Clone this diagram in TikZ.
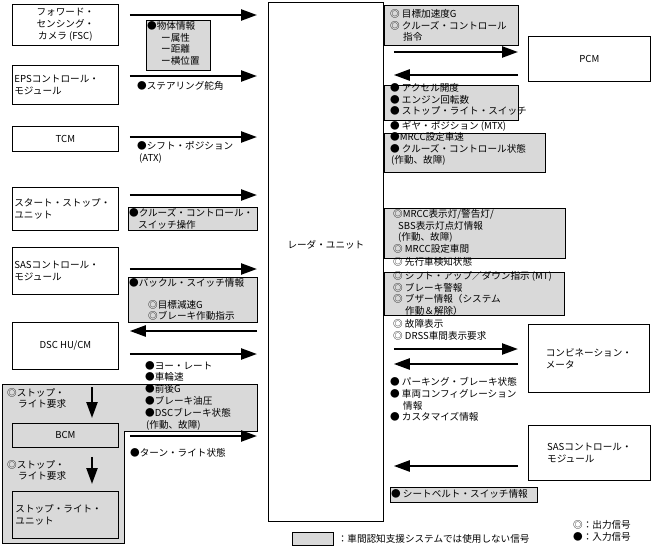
\documentclass[tikz,border=0pt]{standalone}
\usepackage{fontspec}
\setmainfont{Noto Sans CJK JP}
\usetikzlibrary{arrows.meta}
\newcommand\sigfont{\fontsize{9.6}{11.8}\selectfont}

\begin{document}
\begin{tikzpicture}[x=1pt,y=-1pt,font=\sigfont,
  unit/.style={draw,line width=0.8pt,inner sep=2pt,anchor=north west,minimum width=106pt},
  sig/.style={line width=2.4pt,-{Triangle[length=16pt,width=11pt]},shorten <=11pt,shorten >=11pt},
  rsig/.style={sig,shorten <=10pt,shorten >=10pt},
  gbox/.style={draw,fill=black!15,line width=0.6pt},
  txt/.style={anchor=north west,inner sep=0pt,align=left}]
\useasboundingbox (0,0) rectangle (651,546);

% gray area round BCM
\draw[gbox] (2,384) -- (257,384) -- (257,431) -- (124,431) -- (124,543) -- (2,543) -- cycle;

% gray signal boxes
\draw[gbox] (146,20) rectangle (210,70);
\draw[gbox] (128,207) rectangle (257,230);
\draw[gbox] (128,277) rectangle (257,322);
\draw[gbox] (384,5) rectangle (518,45);
\draw[gbox] (384,85) rectangle (518,120);
\draw[gbox] (384,133) rectangle (545,172);
\draw[gbox] (384,208) rectangle (565,258);
\draw[gbox] (384,272) rectangle (564,315);
\draw[gbox] (390,487) rectangle (537,502);

% units
\node[unit,minimum width=115pt,minimum height=519pt,inner sep=0pt] (radar) at (268,2) {};
\node (radarlbl) at (radar.center |- 0,245) {レーダ・ユニット};

\node[unit,minimum height=41pt,align=center] (fsc) at (12,4) {フォワード・\\センシング・\\カメラ (FSC)};
\node[unit,minimum height=39pt,text width=102pt,align=left] (eps) at (12,65) {EPSコントロール・\\モジュール};
\node[unit,minimum height=25pt] (tcm) at (12,126) {TCM};
\node[unit,minimum height=43pt,text width=102pt,align=left] (ssu) at (12,187) {スタート・ストップ・\\ユニット};
\node[unit,minimum height=47pt,text width=102pt,align=left] (sasl) at (12,247) {SASコントロール・\\モジュール};
\node[unit,minimum height=47pt] (dsc) at (12,322) {DSC HU/CM};
\node[unit,minimum height=24pt] (bcm) at (12,423) {BCM};
\node[unit,minimum height=47pt,text width=100pt,inner sep=3pt,align=left] (slu) at (12,491) {ストップ・ライト・\\ユニット};

\node[unit,minimum width=122pt,minimum height=45pt] (pcm) at (528,36) {PCM};
\node[unit,minimum width=121pt,minimum height=68pt,align=left] (meter) at (528,324) {コンビネーション・\\メータ};
\node[unit,minimum width=122pt,minimum height=55pt,align=left] (sasr) at (528,425) {SASコントロール・\\モジュール};

% signals, left side
\node[txt] (objinfo) at (147,21) {●物体情報\\\hspace*{14pt}ー属性\\\hspace*{14pt}ー距離\\\hspace*{14pt}ー横位置};
\node[txt] (steer) at (137,81) {●ステアリング舵角};
\node[txt] (shift) at (137,141) {●シフト・ポジション\\\hspace*{2pt}(ATX)};
\node[txt] (ccsw) at (129,208) {●クルーズ・コントロール・\\\hspace*{9pt}スイッチ操作};
\node[txt] (buckle) at (129,278) {●バックル・スイッチ情報\\[10pt]\hspace*{19pt}◎目標減速G\\\hspace*{19pt}◎ブレーキ作動指示};
\node[txt] (dscsig) at (145,361) {●ヨー・レート\\●車輪速\\●前後G\\●ブレーキ油圧\\●DSCブレーキ状態\\\hspace*{1pt}(作動、故障)};
\node[txt] (turn) at (130,448) {●ターン・ライト状態};
\node[txt] (stopreq1) at (7,388) {◎ストップ・\\\hspace*{11pt}ライト要求};
\node[txt] (stopreq2) at (7,460) {◎ストップ・\\\hspace*{11pt}ライト要求};

% signals, right side
\node[txt] (pcmout) at (390,9) {◎ 目標加速度G\\◎ クルーズ・コントロール\\\hspace*{13pt}指令};
\node[txt] (pcmin) at (390,83) {● アクセル開度\\● エンジン回転数\\● ストップ・ライト・スイッチ};
\node[txt] (gear) at (390,121) {● ギヤ・ポジション (MTX)};
\node[txt] (mrcc) at (390,132) {●MRCC設定車速\\● クルーズ・コントロール状態\\\hspace*{1pt}(作動、故障)};
\node[txt] (lamp) at (393,209) {◎MRCC表示灯/警告灯/\\\hspace*{5pt}SBS表示灯点灯情報\\\hspace*{5pt}(作動、故障)\\◎ MRCC設定車間};
\node[txt] (ahead) at (393,257) {◎ 先行車検知状態};
\node[txt] (shiftup) at (393,271) {◎ シフト・アップ／ダウン指示 (MT)\\◎ ブレーキ警報\\◎ ブザー情報（システム\\\hspace*{12pt}作動＆解除）};
\node[txt] (fault) at (393,319) {◎ 故障表示\\◎ DRSS車間表示要求};
\node[txt] (park) at (390,377) {● パーキング・ブレーキ状態\\● 車両コンフィグレーション\\\hspace*{13pt}情報\\● カスタマイズ情報};
\node[txt] (belt) at (391,489) {● シートベルト・スイッチ情報};

% arrows
\foreach \src/\yy in {fsc/15,eps/76,tcm/137,ssu/195,sasl/269,dsc/354,bcm/436}
  \draw[sig] (\src.east |- 0,\yy) -- (radar.west |- 0,\yy);
\draw[sig] (radar.west |- 0,331) -- (dsc.east |- 0,331);
\draw[rsig] (radar.east |- 0,52) -- (pcm.west |- 0,52);
\draw[rsig] (pcm.west |- 0,75) -- (radar.east |- 0,75);
\draw[rsig] (radar.east |- 0,349) -- (meter.west |- 0,349);
\draw[rsig] (meter.west |- 0,364) -- (radar.east |- 0,364);
\draw[rsig] (sasr.west |- 0,466) -- (radar.east |- 0,466);

\coordinate (sr1) at (92,387);
\draw[sig,shorten <=0pt,shorten >=5pt] (sr1) -- (sr1 |- bcm.north);
\draw[sig,shorten <=9pt,shorten >=7pt] (sr1 |- bcm.south) -- (sr1 |- slu.north);

% legend
\node[gbox,anchor=north west,minimum width=41pt,minimum height=13pt,inner sep=0pt] (legbox) at (292,532) {};
\node[anchor=west,inner sep=0pt,xshift=4pt] (legtxt) at (legbox.east) {：車間認知支援システムでは使用しない信号};
\node[txt] (legsig) at (573,520) {◎：出力信号\\●：入力信号};
\end{tikzpicture}
\end{document}
